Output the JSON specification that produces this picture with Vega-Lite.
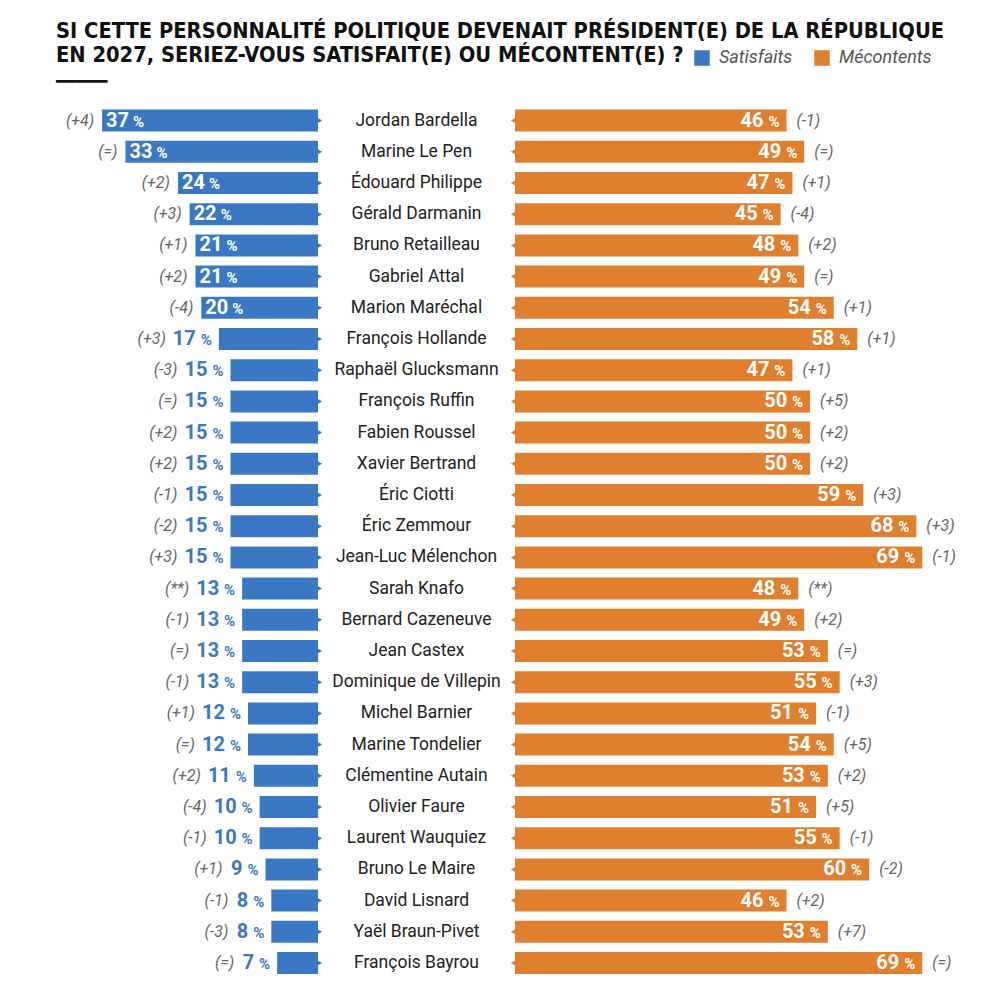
{
  "$schema": "https://vega.github.io/schema/vega-lite/v6.json",
  "background": "white",
  "padding": {"left": 0, "right": 0, "top": 20, "bottom": 0},
  "bounds": "flush",
  "spacing": 0,
  "config": {"view": {"stroke": null}, "concat": {"spacing": 0}},
  "title": {
    "text": ["SI CETTE PERSONNALITÉ POLITIQUE DEVENAIT PRÉSIDENT(E) DE LA RÉPUBLIQUE", "EN 2027, SERIEZ-VOUS SATISFAIT(E) OU MÉCONTENT(E) ?"],
    "subtitle": "━━━━━",
    "anchor": "start",
    "frame": "group",
    "dx": 56,
    "font": "DejaVu Sans Condensed",
    "fontWeight": "bold",
    "fontSize": 21.7,
    "lineHeight": 24.5,
    "color": "#111111",
    "subtitleFont": "DejaVu Sans",
    "subtitleFontSize": 17,
    "subtitleColor": "#111111",
    "subtitlePadding": 7,
    "offset": -41
  },
  "data": {"values": [
    {"name": "Jordan Bardella", "sat": 37, "sat_chg": "(+4)", "mec": 46, "mec_chg": "(-1)"},
    {"name": "Marine Le Pen", "sat": 33, "sat_chg": "(=)", "mec": 49, "mec_chg": "(=)"},
    {"name": "Édouard Philippe", "sat": 24, "sat_chg": "(+2)", "mec": 47, "mec_chg": "(+1)"},
    {"name": "Gérald Darmanin", "sat": 22, "sat_chg": "(+3)", "mec": 45, "mec_chg": "(-4)"},
    {"name": "Bruno Retailleau", "sat": 21, "sat_chg": "(+1)", "mec": 48, "mec_chg": "(+2)"},
    {"name": "Gabriel Attal", "sat": 21, "sat_chg": "(+2)", "mec": 49, "mec_chg": "(=)"},
    {"name": "Marion Maréchal", "sat": 20, "sat_chg": "(-4)", "mec": 54, "mec_chg": "(+1)"},
    {"name": "François Hollande", "sat": 17, "sat_chg": "(+3)", "mec": 58, "mec_chg": "(+1)"},
    {"name": "Raphaël Glucksmann", "sat": 15, "sat_chg": "(-3)", "mec": 47, "mec_chg": "(+1)"},
    {"name": "François Ruffin", "sat": 15, "sat_chg": "(=)", "mec": 50, "mec_chg": "(+5)"},
    {"name": "Fabien Roussel", "sat": 15, "sat_chg": "(+2)", "mec": 50, "mec_chg": "(+2)"},
    {"name": "Xavier Bertrand", "sat": 15, "sat_chg": "(+2)", "mec": 50, "mec_chg": "(+2)"},
    {"name": "Éric Ciotti", "sat": 15, "sat_chg": "(-1)", "mec": 59, "mec_chg": "(+3)"},
    {"name": "Éric Zemmour", "sat": 15, "sat_chg": "(-2)", "mec": 68, "mec_chg": "(+3)"},
    {"name": "Jean-Luc Mélenchon", "sat": 15, "sat_chg": "(+3)", "mec": 69, "mec_chg": "(-1)"},
    {"name": "Sarah Knafo", "sat": 13, "sat_chg": "(**)", "mec": 48, "mec_chg": "(**)"},
    {"name": "Bernard Cazeneuve", "sat": 13, "sat_chg": "(-1)", "mec": 49, "mec_chg": "(+2)"},
    {"name": "Jean Castex", "sat": 13, "sat_chg": "(=)", "mec": 53, "mec_chg": "(=)"},
    {"name": "Dominique de Villepin", "sat": 13, "sat_chg": "(-1)", "mec": 55, "mec_chg": "(+3)"},
    {"name": "Michel Barnier", "sat": 12, "sat_chg": "(+1)", "mec": 51, "mec_chg": "(-1)"},
    {"name": "Marine Tondelier", "sat": 12, "sat_chg": "(=)", "mec": 54, "mec_chg": "(+5)"},
    {"name": "Clémentine Autain", "sat": 11, "sat_chg": "(+2)", "mec": 53, "mec_chg": "(+2)"},
    {"name": "Olivier Faure", "sat": 10, "sat_chg": "(-4)", "mec": 51, "mec_chg": "(+5)"},
    {"name": "Laurent Wauquiez", "sat": 10, "sat_chg": "(-1)", "mec": 55, "mec_chg": "(-1)"},
    {"name": "Bruno Le Maire", "sat": 9, "sat_chg": "(+1)", "mec": 60, "mec_chg": "(-2)"},
    {"name": "David Lisnard", "sat": 8, "sat_chg": "(-1)", "mec": 46, "mec_chg": "(+2)"},
    {"name": "Yaël Braun-Pivet", "sat": 8, "sat_chg": "(-3)", "mec": 53, "mec_chg": "(+7)"},
    {"name": "François Bayrou", "sat": 7, "sat_chg": "(=)", "mec": 69, "mec_chg": "(=)"}
  ]},
  "resolve": {"scale": {"color": "shared"}, "legend": {"color": "shared"}},
  "hconcat": [
    {
      "width": 318,
      "height": 873.6,
      "encoding": {
        "y": {"field": "name", "type": "nominal", "sort": null, "axis": null, "scale": {"paddingInner": 0.295, "paddingOuter": 0.1475}},
        "x": {"field": "sat", "type": "quantitative", "axis": null, "scale": {"domain": [0, 54.5], "reverse": true}}
      },
      "layer": [
        {
          "mark": {"type": "bar"},
          "encoding": {
            "color": {
              "datum": "Satisfaits",
              "type": "nominal",
              "scale": {"domain": ["Satisfaits", "Mécontents"], "range": ["#3b78c3", "#e07f2e"]},
              "legend": {
                "orient": "none", "legendX": 693, "legendY": -56, "direction": "horizontal", "title": null,
                "symbolType": "square", "symbolSize": 240, "symbolStrokeWidth": 0, "symbolOpacity": 1,
                "labelFont": "Roboto", "labelFontStyle": "italic", "labelFontSize": 18, "labelColor": "#555555",
                "labelOffset": 8, "columnPadding": 20
              }
            }
          }
        },
        {
          "mark": {"type": "point", "shape": "triangle-right", "filled": true, "size": 90, "color": "#3b78c3", "opacity": 1},
          "encoding": {"x": {"datum": 0, "type": "quantitative"}}
        },
        {
          "transform": [{"filter": "datum.sat >= 20"}],
          "mark": {"type": "text", "align": "left", "dx": 4, "font": "Roboto", "fontWeight": "bold", "fontSize": 20, "color": "white"},
          "encoding": {"text": {"field": "sat", "type": "quantitative"}}
        },
        {
          "transform": [{"filter": "datum.sat >= 20"}],
          "mark": {"type": "text", "align": "left", "dx": 31, "dy": 1, "text": "%", "font": "Roboto", "fontWeight": "bold", "fontSize": 15, "color": "white"}
        },
        {
          "transform": [{"filter": "datum.sat >= 20"}],
          "mark": {"type": "text", "align": "right", "dx": -8, "font": "Roboto", "fontStyle": "italic", "fontSize": 16, "color": "#666666"},
          "encoding": {"text": {"field": "sat_chg"}}
        },
        {
          "transform": [{"filter": "datum.sat < 20"}],
          "mark": {"type": "text", "align": "right", "dx": -23, "font": "Roboto", "fontWeight": "bold", "fontSize": 20, "color": "#3b78c3"},
          "encoding": {"text": {"field": "sat", "type": "quantitative"}}
        },
        {
          "transform": [{"filter": "datum.sat < 20"}],
          "mark": {"type": "text", "align": "right", "dx": -7, "dy": 1, "text": "%", "font": "Roboto", "fontWeight": "bold", "fontSize": 15, "color": "#3b78c3"}
        },
        {
          "transform": [{"filter": "datum.sat < 20 && datum.sat >= 10"}],
          "mark": {"type": "text", "align": "right", "dx": -53, "font": "Roboto", "fontStyle": "italic", "fontSize": 16, "color": "#666666"},
          "encoding": {"text": {"field": "sat_chg"}}
        },
        {
          "transform": [{"filter": "datum.sat < 10"}],
          "mark": {"type": "text", "align": "right", "dx": -43, "font": "Roboto", "fontStyle": "italic", "fontSize": 16, "color": "#666666"},
          "encoding": {"text": {"field": "sat_chg"}}
        }
      ]
    },
    {
      "width": 197,
      "height": 873.6,
      "mark": {"type": "text", "align": "center", "font": "Roboto", "fontSize": 17.5, "color": "#222222"},
      "encoding": {
        "y": {"field": "name", "type": "nominal", "sort": null, "axis": null, "scale": {"paddingInner": 0.295, "paddingOuter": 0.1475}},
        "text": {"field": "name"}
      }
    },
    {
      "width": 484,
      "height": 873.6,
      "encoding": {
        "y": {"field": "name", "type": "nominal", "sort": null, "axis": null, "scale": {"paddingInner": 0.295, "paddingOuter": 0.1475}},
        "x": {"field": "mec", "type": "quantitative", "axis": null, "scale": {"domain": [0, 82]}}
      },
      "layer": [
        {
          "mark": {"type": "bar"},
          "encoding": {
            "color": {"datum": "Mécontents", "type": "nominal"}
          }
        },
        {
          "mark": {"type": "point", "shape": "triangle-left", "filled": true, "size": 90, "color": "#e07f2e", "opacity": 1},
          "encoding": {"x": {"datum": 0, "type": "quantitative"}}
        },
        {
          "mark": {"type": "text", "align": "right", "dx": -23, "font": "Roboto", "fontWeight": "bold", "fontSize": 20, "color": "white"},
          "encoding": {"text": {"field": "mec", "type": "quantitative"}}
        },
        {
          "mark": {"type": "text", "align": "right", "dx": -7, "dy": 1, "text": "%", "font": "Roboto", "fontWeight": "bold", "fontSize": 15, "color": "white"}
        },
        {
          "mark": {"type": "text", "align": "left", "dx": 10, "font": "Roboto", "fontStyle": "italic", "fontSize": 16, "color": "#666666"},
          "encoding": {"text": {"field": "mec_chg"}}
        }
      ]
    }
  ]
}
